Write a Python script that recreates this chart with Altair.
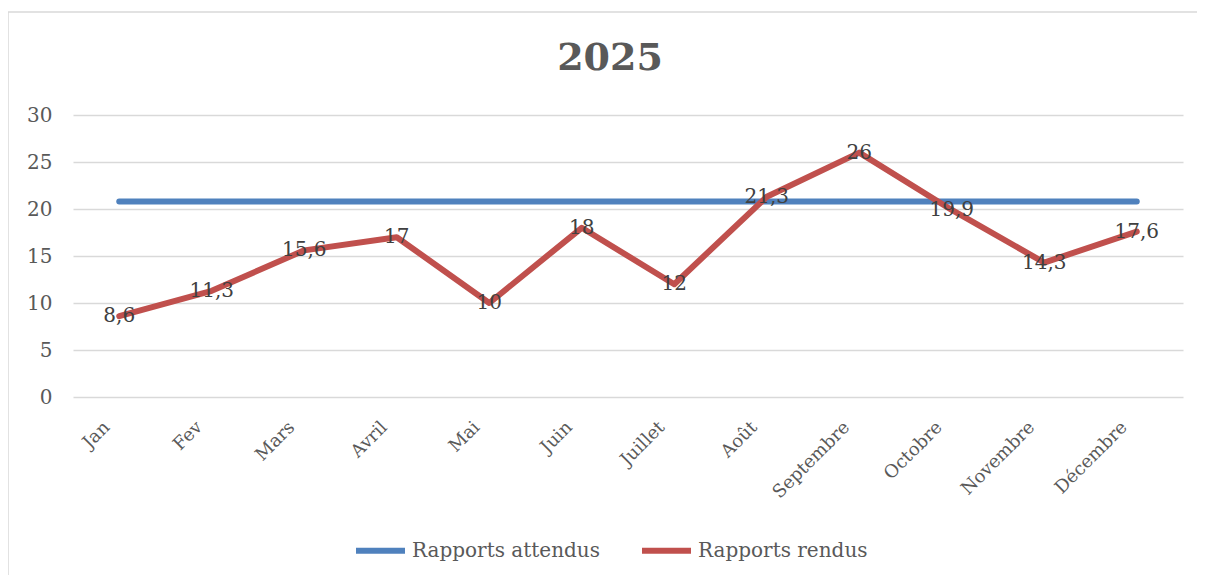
import altair as alt
import pandas as pd

months = ["Jan", "Fev", "Mars", "Avril", "Mai", "Juin", "Juillet", "Août",
          "Septembre", "Octobre", "Novembre", "Décembre"]
rendus = [8.6, 11.3, 15.6, 17, 10, 18, 12, 21.3, 26, 19.9, 14.3, 17.6]
attendus = [20.8, 20.8, 20.8, 20.8, 20.8, 20.8, 20.8, 20.8, 20.8, 20.8, 20.8, 20.8]
series_names = ["Rapports attendus", "Rapports rendus"]
series_colors = ["#4F81BD", "#C0504D"]
y_ticks = [0, 5, 10, 15, 20, 25, 30]
title_text = "2025"

FONT = "DejaVu Serif"
TXT = "#595959"

rows = []
for m, v in zip(months, attendus):
    rows.append({"mois": m, "valeur": v, "serie": series_names[0]})
for m, v in zip(months, rendus):
    rows.append({"mois": m, "valeur": v, "serie": series_names[1]})
df = pd.DataFrame(rows)

df_lab = pd.DataFrame({
    "mois": months,
    "valeur": rendus,
    "label": [("%g" % v).replace(".", ",") for v in rendus],
})

x = alt.X("mois:N", sort=months,
          axis=alt.Axis(title=None, labelAngle=-45, labelFont=FONT, labelFontSize=18,
                        labelColor=TXT, ticks=False, domain=False, grid=False,
                        labelPadding=21, labelOffset=-19))
y = alt.Y("valeur:Q", scale=alt.Scale(domain=[0, 30]),
          axis=alt.Axis(title=None, values=y_ticks, labelFont=FONT, labelFontSize=20,
                        labelColor=TXT, ticks=False, domain=False, grid=True,
                        gridColor="#d9d9d9", gridWidth=1.3, labelPadding=21))
color = alt.Color("serie:N", scale=alt.Scale(domain=series_names, range=series_colors),
                  legend=alt.Legend(title=None, orient="none", direction="horizontal",
                                    legendX=280, legendY=408, labelLimit=0,
                                    labelFont=FONT, labelFontSize=20, labelColor=TXT,
                                    symbolType="stroke", symbolStrokeWidth=6,
                                    symbolSize=2400, labelOffset=4, columnPadding=30))

border = alt.Chart(pd.DataFrame({"a": [0]})).mark_rect(
    fill=None, stroke="#d9d9d9", strokeWidth=1.5
).encode(x=alt.value(-65), x2=alt.value(1200), y=alt.value(-103), y2=alt.value(600))

lines = alt.Chart(df).mark_line(strokeWidth=6, strokeCap="round", strokeJoin="round").encode(
    x=x, y=y, color=color)

labels = alt.Chart(df_lab).mark_text(font=FONT, fontSize=20, color="#404040").encode(
    x=alt.X("mois:N", sort=months), y="valeur:Q", text="label:N")

chart = alt.layer(border, lines, labels).properties(
    width=1110, height=282,
    padding={"left": 65, "top": 107, "right": 14, "bottom": 178},
    autosize=alt.AutoSizeParams(type="none"),
    title=alt.TitleParams(title_text, font=FONT, fontSize=38, fontWeight="bold",
                          color=TXT, anchor="middle", offset=-67, dx=-18),
    background="white",
).configure_view(stroke=None)

chart.save("out.html", embed_options={"renderer": "svg", "actions": False})
